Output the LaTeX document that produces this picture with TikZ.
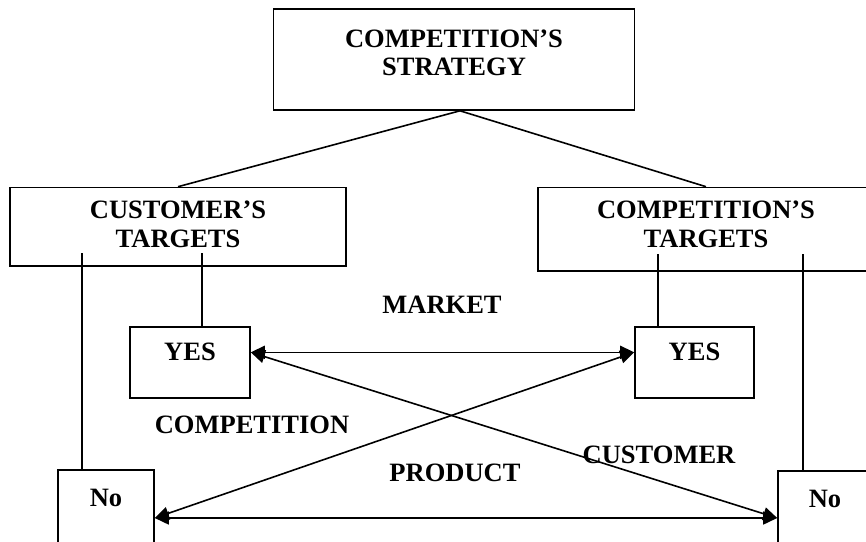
\documentclass[tikz,border=0pt]{standalone}
\usepackage{fontspec}
\setmainfont{Liberation Serif}
\usetikzlibrary{arrows.meta,positioning}
\tikzstyle{block} = [draw, rectangle, line width=1.6pt, inner sep=0pt]
\tikzstyle{txt} = [font=\fontsize{26.5}{28.5}\selectfont\bfseries, inner sep=0pt, align=center]
\tikzstyle{link} = [line width=1.6pt]

\begin{document}
\begin{tikzpicture}[x=1pt, y=-1pt, >={Triangle[length=14pt,width=13pt]}]
    \clip (0,0) rectangle (866,541);
    % boxes
    \node [block, minimum width=361pt, minimum height=101pt] (strat) at (454,59.5) {};
    \node [txt, below=21pt of strat.north] (strattxt) {COMPETITION’S\\STRATEGY};
    \node [block, minimum width=336pt, minimum height=78.5pt] (cust) at (178,226.75) {};
    \node [txt] (custtxt) at (178,224.5) {CUSTOMER’S\\TARGETS};
    \node [block, minimum width=336pt, minimum height=83.5pt] (comp) at (706,229.25) {};
    \node [txt] (comptxt) at (706,224.5) {COMPETITION’S\\TARGETS};
    \node [block, minimum width=120pt, minimum height=71pt] (yesL) at (190,362.5) {};
    \node [txt, below=17pt of yesL.north] (yesLt) {YES};
    \node [block, minimum width=119pt, minimum height=71pt] (yesR) at (694.5,362.5) {};
    \node [txt, below=17pt of yesR.north] (yesRt) {YES};
    \node [block, minimum width=96pt, minimum height=96pt] (noL) at (106,518) {};
    \node [txt, below=20pt of noL.north] (noLt) {No};
    \node [block, minimum width=94pt, minimum height=94pt] (noR) at (825,518) {};
    \node [txt, below=20pt of noR.north] (noRt) {No};
    % labels
    \node [txt] (market) at (442,305) {MARKET};
    \node [txt] (competition) at (252,425) {COMPETITION};
    \node [txt] (product) at (455,473) {PRODUCT};
    \node [txt] (customer) at (659,455) {CUSTOMER};
    % connectors
    \draw [link] ([xshift=6pt]strat.south) -- (cust.north);
    \draw [link] ([xshift=6pt]strat.south) -- (comp.north);
    \coordinate (c1) at (82,253);
    \coordinate (c2) at (202,253);
    \coordinate (c3) at (658,254);
    \coordinate (c4) at (803,254);
    \draw [link] (c1) -- (c1 |- noL.north);
    \draw [link] (c2) -- (c2 |- yesL.north);
    \draw [link] (c3) -- (c3 |- yesR.north);
    \draw [link] (c4) -- (c4 |- noR.north);
    \draw [link, <->] (yesLt -| yesL.east) -- (yesRt -| yesR.west);
    \draw [link, <->] (yesLt -| yesL.east) -- (noR.west);
    \draw [link, <->] (yesRt -| yesR.west) -- (noL.east);
    \draw [link, <->] (noL.east) -- (noR.west);
\end{tikzpicture}
\end{document}
